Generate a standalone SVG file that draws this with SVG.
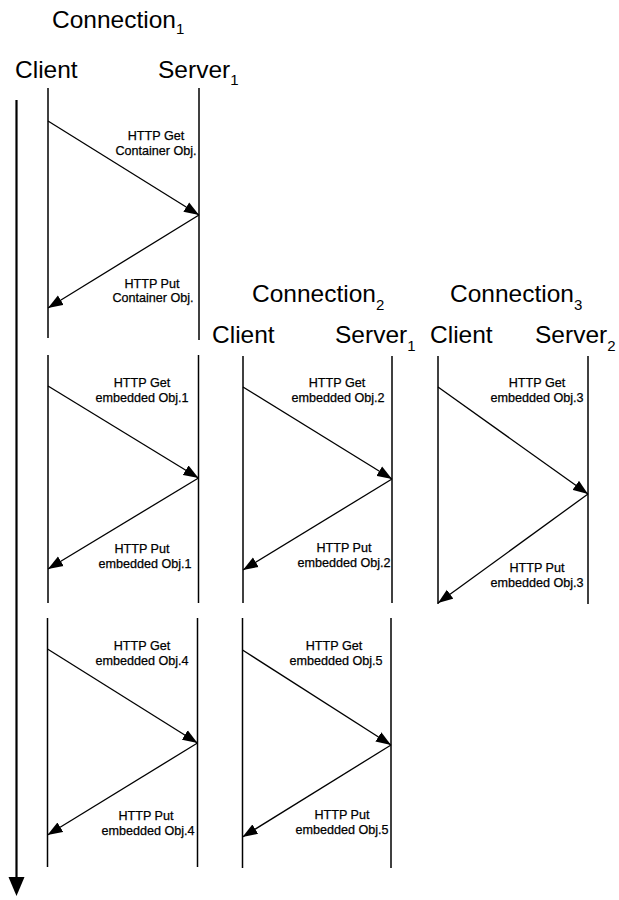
<svg xmlns="http://www.w3.org/2000/svg" width="619" height="900" viewBox="0 0 619 900">
  <style>
    .hdr { font-family: "Liberation Sans", Arial, sans-serif; font-size: 24.5px; fill: #000; }
    .sub { font-size: 15px; }
    .lbl { font-family: "Liberation Sans", Arial, sans-serif; font-size: 12.6px; fill: #000; stroke: #000; stroke-width: 0.25; text-anchor: middle; }
    .life { stroke: #000; stroke-width: 1.5; fill: none; }
    .msg { stroke: #000; stroke-width: 1.3; fill: none; marker-end: url(#head); }
    .axis { stroke: #000; stroke-width: 2.2; fill: none; }
  </style>
  <defs>
    <marker id="head" markerUnits="userSpaceOnUse" markerWidth="16" markerHeight="12" viewBox="0 0 16 12" refX="15" refY="6" orient="auto">
      <path d="M0,0.5 L15,6 L0,11.5 Z" fill="#000"/>
    </marker>
  </defs>

  <rect width="619" height="900" fill="#fff"/>

  <!-- time axis -->
  <g id="time-axis">
    <line class="axis" x1="16.5" y1="100" x2="16.5" y2="880"/>
    <path d="M8.5,877 L24.5,877 L16.5,896 Z" fill="#000"/>
  </g>

  <!-- headings -->
  <g id="connection1-heading">
    <text class="hdr" x="52" y="28">Connection<tspan class="sub" dy="6">1</tspan></text>
    <text class="hdr" x="15" y="78">Client</text>
    <text class="hdr" x="158" y="78">Server<tspan class="sub" dy="7">1</tspan></text>
  </g>
  <g id="connection2-heading">
    <text class="hdr" x="252" y="302">Connection<tspan class="sub" dy="8">2</tspan></text>
    <text class="hdr" x="212" y="343">Client</text>
    <text class="hdr" x="335" y="343">Server<tspan class="sub" dy="8">1</tspan></text>
  </g>
  <g id="connection3-heading">
    <text class="hdr" x="450" y="302">Connection<tspan class="sub" dy="8">3</tspan></text>
    <text class="hdr" x="430" y="343">Client</text>
    <text class="hdr" x="535" y="343">Server<tspan class="sub" dy="8">2</tspan></text>
  </g>

  <!-- lifeline segments -->
  <g id="lifelines">
    <!-- connection 1 -->
    <line class="life" x1="48" y1="88" x2="48" y2="338"/>
    <line class="life" x1="199" y1="88" x2="199" y2="340"/>
    <line class="life" x1="48" y1="355" x2="48" y2="603"/>
    <line class="life" x1="198.5" y1="355" x2="198.5" y2="603"/>
    <line class="life" x1="47.5" y1="618" x2="47.5" y2="867"/>
    <line class="life" x1="197.5" y1="618" x2="197.5" y2="867"/>
    <!-- connection 2 -->
    <line class="life" x1="243" y1="356" x2="243" y2="603"/>
    <line class="life" x1="392" y1="356" x2="392" y2="603"/>
    <line class="life" x1="242.5" y1="618" x2="242.5" y2="868"/>
    <line class="life" x1="391" y1="618" x2="391" y2="868"/>
    <!-- connection 3 -->
    <line class="life" x1="438" y1="356" x2="438" y2="604"/>
    <line class="life" x1="588" y1="356" x2="588" y2="604"/>
  </g>

  <!-- request / response messages -->
  <g id="connectors">
    <line class="msg" x1="48" y1="121" x2="199" y2="215"/>
    <line class="msg" x1="199" y1="215" x2="48" y2="308"/>

    <line class="msg" x1="48" y1="386" x2="198.5" y2="478"/>
    <line class="msg" x1="198.5" y1="478" x2="48" y2="569"/>

    <line class="msg" x1="243" y1="387" x2="392" y2="479"/>
    <line class="msg" x1="392" y1="479" x2="243" y2="570"/>

    <line class="msg" x1="438" y1="387" x2="588" y2="494"/>
    <line class="msg" x1="588" y1="494" x2="438" y2="603"/>

    <line class="msg" x1="47.5" y1="649" x2="197.5" y2="743"/>
    <line class="msg" x1="197.5" y1="743" x2="47.5" y2="835"/>

    <line class="msg" x1="242.5" y1="650" x2="391" y2="745"/>
    <line class="msg" x1="391" y1="745" x2="242.5" y2="837"/>
  </g>

  <!-- message labels -->
  <g id="labels">
    <text class="lbl" x="156" y="140">HTTP Get</text>
    <text class="lbl" x="156" y="155">Container Obj.</text>
    <text class="lbl" x="152" y="288">HTTP Put</text>
    <text class="lbl" x="153" y="302">Container Obj.</text>

    <text class="lbl" x="142" y="387">HTTP Get</text>
    <text class="lbl" x="142" y="402">embedded Obj.1</text>
    <text class="lbl" x="142" y="553">HTTP Put</text>
    <text class="lbl" x="145" y="568">embedded Obj.1</text>

    <text class="lbl" x="337" y="387">HTTP Get</text>
    <text class="lbl" x="338" y="402">embedded Obj.2</text>
    <text class="lbl" x="344" y="552">HTTP Put</text>
    <text class="lbl" x="344" y="567">embedded Obj.2</text>

    <text class="lbl" x="537" y="387">HTTP Get</text>
    <text class="lbl" x="537" y="402">embedded Obj.3</text>
    <text class="lbl" x="537" y="572">HTTP Put</text>
    <text class="lbl" x="537" y="587">embedded Obj.3</text>

    <text class="lbl" x="142" y="650">HTTP Get</text>
    <text class="lbl" x="142" y="665">embedded Obj.4</text>
    <text class="lbl" x="146" y="820">HTTP Put</text>
    <text class="lbl" x="148" y="835">embedded Obj.4</text>

    <text class="lbl" x="334" y="650">HTTP Get</text>
    <text class="lbl" x="336" y="665">embedded Obj.5</text>
    <text class="lbl" x="342" y="819">HTTP Put</text>
    <text class="lbl" x="342" y="834">embedded Obj.5</text>
  </g>
</svg>
